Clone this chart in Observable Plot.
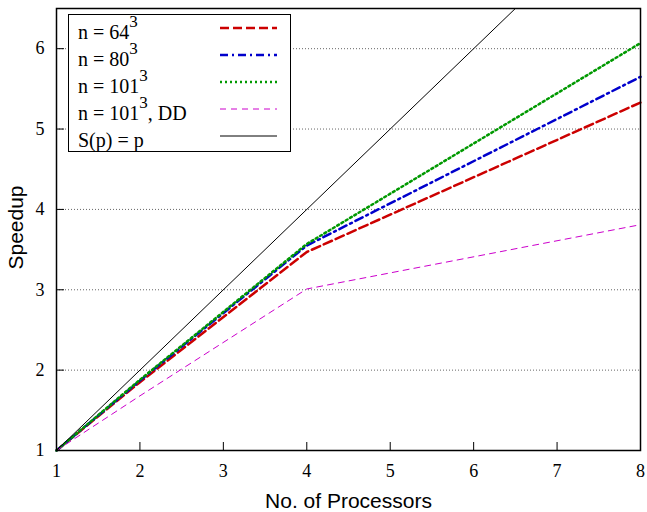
<!DOCTYPE html>
<html><head><meta charset="utf-8">
<script src="https://cdn.jsdelivr.net/npm/d3@7"></script>
<script src="https://cdn.jsdelivr.net/npm/@observablehq/plot@0.6"></script>
<style>
body{margin:0;background:#fff;}
#wrap{position:relative;width:647px;height:512px;}
#legend{position:absolute;left:0;top:0;pointer-events:none;}
#wrap g[aria-label*="tick label"], #wrap g[aria-label*="tick label"] text {
  font-family: 'Liberation Serif','Times New Roman',serif !important;
  font-size: 18px !important;
  font-variant: normal !important;
}
</style></head><body><div id="wrap"></div>
<script>
const processors = [1, 2, 4, 8];
const speedup64 = [1, 1.85, 3.47, 5.33];
const speedup80 = [1, 1.87, 3.55, 5.65];
const speedup101 = [1, 1.88, 3.57, 6.07];
const speedup101DD = [1, 1.68, 3.01, 3.81];
const idealP = [1, 8];
const xTicks = [1, 2, 3, 4, 5, 6, 7, 8];
const yTicks = [1, 2, 3, 4, 5, 6];
const gridY = [2, 3, 4, 5, 6];
const seriesNames = ["n = 64", "n = 80", "n = 101", "n = 101", "S(p) = p"];
const seriesSup = ["3", "3", "3", "3", ""];
const seriesSuffix = ["", "", "", ", DD", ""];
const colors = ["#cc0000", "#0000cc", "#009900", "#cc00cc", "#000000"];
const dashes = ["9,4", "8,4,2,4", "2,3", "6,5", "none"];
const widths = [2.5, 2.5, 2.5, 1, 1];

const seriesValues = [speedup64, speedup80, speedup101, speedup101DD];
const rows = [];
seriesValues.forEach((vals, s) => processors.forEach((p, i) => rows.push({s, x: p, y: vals[i]})));
const idealRows = idealP.map(p => ({x: p, y: p}));

const W = 647, H = 512, mL = 56, mR = 7, mT = 8, mB = 62;
const fW = W - mL - mR, fH = H - mT - mB;
const serif = "'Liberation Serif','Times New Roman',serif";
const sans = "'Liberation Sans',Arial,sans-serif";

const lineMarks = seriesValues.map((v, s) =>
  Plot.line(rows.filter(r => r.s === s), {x: "x", y: "y", stroke: colors[s], strokeWidth: widths[s], strokeDasharray: dashes[s]})
);

const chart = Plot.plot({
  width: W, height: H, marginLeft: mL, marginRight: mR, marginTop: mT, marginBottom: mB,
  x: {domain: [1, 8]},
  y: {domain: [1, 6.5]},
  style: {fontFamily: serif, fontSize: "18px", color: "#000", background: "#fff"},
  marks: [
    Plot.ruleY(gridY, {y: d => d, stroke: "#666", strokeDasharray: "1,2", strokeWidth: 1}),
    Plot.axisX(xTicks, {tickSize: 0, tickPadding: 14, label: null, tickFormat: d => String(d)}),
    Plot.axisY(yTicks, {tickSize: 0, tickPadding: 12, label: null, tickFormat: d => String(d)}),
    Plot.ruleX(xTicks, {x: d => d, insetTop: fH - 8, stroke: "#000"}),
    Plot.ruleY(yTicks, {y: d => d, insetRight: fW - 8, stroke: "#000"}),
    ...lineMarks,
    Plot.line(idealRows, {x: "x", y: "y", stroke: colors[4], strokeWidth: widths[4], clip: true}),
    Plot.frame({stroke: "#000", strokeWidth: 1.5}),
    Plot.text(["Speedup"], {text: d => d, frameAnchor: "left", dx: -40, dy: -2, rotate: -90, textAnchor: "middle", lineAnchor: "middle", fontFamily: sans, fontSize: 21}),
    Plot.text(["No. of Processors"], {text: d => d, frameAnchor: "bottom", dy: 50.5, textAnchor: "middle", lineAnchor: "middle", fontFamily: sans, fontSize: 21})
  ]
});
const wrap = document.getElementById("wrap");
wrap.appendChild(chart);

// legend overlay
const svg = d3.select(wrap).append("svg").attr("id", "legend").attr("width", W).attr("height", H);
svg.append("rect").attr("x", 68.5).attr("y", 14.5).attr("width", 222).attr("height", 137)
  .attr("fill", "#fff").attr("stroke", "#000").attr("stroke-width", 1);
seriesNames.forEach((name, i) => {
  const cy = 28 + 27 * i;
  const t = svg.append("text").attr("x", 78).attr("y", cy + 11)
    .attr("font-family", serif).attr("font-size", 20).attr("fill", "#000");
  t.append("tspan").text(name);
  if (seriesSup[i]) t.append("tspan").attr("dy", -12).attr("font-size", 17).text(seriesSup[i]);
  if (seriesSuffix[i]) t.append("tspan").attr("dy", 12).text(seriesSuffix[i]);
  svg.append("line").attr("x1", 220).attr("x2", 277).attr("y1", cy).attr("y2", cy)
    .attr("stroke", colors[i]).attr("stroke-width", widths[i])
    .attr("stroke-dasharray", dashes[i] === "none" ? null : dashes[i]);
});
</script></body></html>
